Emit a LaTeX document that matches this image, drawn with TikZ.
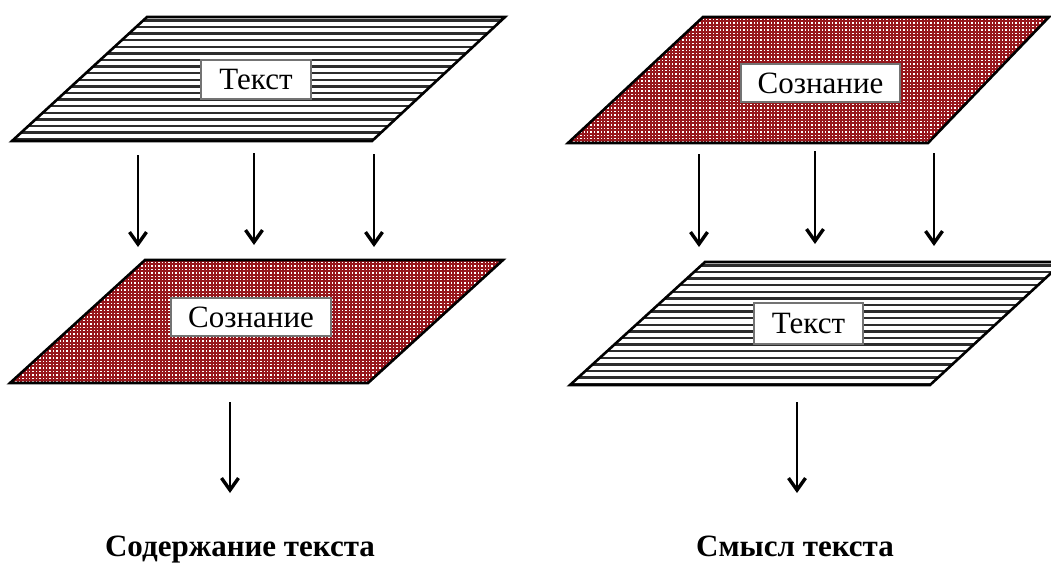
\documentclass[tikz,border=0pt]{standalone}
\usepackage{fontspec}
\setmainfont{Liberation Serif}
\newfontfamily\timesfont{Liberation Serif}
\usetikzlibrary{arrows.meta}

\definecolor{checkred}{RGB}{150,22,28}
\definecolor{stripegray}{RGB}{45,45,45}

\tikzset{
  plane/.style={draw=black, line width=2.6pt, line join=miter},
  stripe/.style={draw=stripegray, line width=2.4pt},
  checkline/.style={draw=checkred, line width=2.1pt},
  labelbox/.style={draw=black!55, line width=2pt, fill=white, inner sep=0pt,
    font=\timesfont\fontsize{31}{34}\selectfont},
  flow/.style={line width=2.2pt, -{Straight Barb[length=12pt,width=17pt,line width=3.4pt]}},
  caption/.style={font=\timesfont\bfseries\fontsize{31}{34}\selectfont, anchor=base},
}

% #1 bottom-left x, #2 bottom-right x, #3 top-right x, #4 top-left x, #5 top y, #6 bottom y
\newcommand\stripedplane[6]{%
  \begin{scope}
    \clip (#1,#6) -- (#2,#6) -- (#3,#5) -- (#4,#5) -- cycle;
    \fill[white] (#1,#6) -- (#2,#6) -- (#3,#5) -- (#4,#5) -- cycle;
    \pgfmathsetmacro\ystart{#5+3.4}
    \pgfmathsetmacro\ynext{#5+3.4+6.6}
    \foreach \yy in {\ystart,\ynext,...,#6} \draw[stripe] (#1,\yy) -- (#3,\yy);
  \end{scope}
  \draw[plane] (#1,#6) -- (#2,#6) -- (#3,#5) -- (#4,#5) -- cycle;
}

\newcommand\checkedplane[6]{%
  \begin{scope}
    \clip (#1,#6) -- (#2,#6) -- (#3,#5) -- (#4,#5) -- cycle;
    \fill[white] (#1,#6) -- (#2,#6) -- (#3,#5) -- (#4,#5) -- cycle;
    \pgfmathsetmacro\ystart{#5+1}
    \pgfmathsetmacro\ynext{#5+1+3.4}
    \foreach \yy in {\ystart,\ynext,...,#6} \draw[checkline] (#1,\yy) -- (#3,\yy);
    \pgfmathsetmacro\xstart{#1+1}
    \pgfmathsetmacro\xnext{#1+1+3.4}
    \foreach \xx in {\xstart,\xnext,...,#3} \draw[checkline] (\xx,#5) -- (\xx,#6);
  \end{scope}
  \draw[plane] (#1,#6) -- (#2,#6) -- (#3,#5) -- (#4,#5) -- cycle;
}

\begin{document}
\begin{tikzpicture}[x=1pt, y=-1pt]
  \useasboundingbox (0,0) rectangle (1051,565);

  % planes
  \stripedplane{12}{372}{505}{147}{17}{141}
  \checkedplane{568}{928}{1049}{703}{17}{143}
  \checkedplane{10}{368}{503}{145}{260}{383}
  \stripedplane{570}{930}{1063}{705}{262}{385}

  % labels on the planes
  \node[labelbox, minimum width=110pt, minimum height=39pt] (textA) at (256,79.5) {Текст};
  \node[labelbox, minimum width=159pt, minimum height=38pt] (mindA) at (820.5,83) {Сознание};
  \node[labelbox, minimum width=160pt, minimum height=38pt] (mindB) at (251,317) {Сознание};
  \node[labelbox, minimum width=109pt, minimum height=41pt] (textB) at (808.5,323.5) {Текст};

  % arrow ends
  \coordinate (la1) at (138,155); \coordinate (lb1) at (138,247);
  \coordinate (la2) at (254,153); \coordinate (lb2) at (254,245);
  \coordinate (la3) at (374,154); \coordinate (lb3) at (374,247);
  \coordinate (ra1) at (699,154); \coordinate (rb1) at (699,247);
  \coordinate (ra2) at (815,151); \coordinate (rb2) at (815,244);
  \coordinate (ra3) at (934,153); \coordinate (rb3) at (934,246);
  \coordinate (lo1) at (230,402); \coordinate (lo2) at (230,493);
  \coordinate (ro1) at (797,402); \coordinate (ro2) at (797,493);

  \draw[flow] (la1) -- (lb1);
  \draw[flow] (la2) -- (lb2);
  \draw[flow] (la3) -- (lb3);
  \draw[flow] (ra1) -- (rb1);
  \draw[flow] (ra2) -- (rb2);
  \draw[flow] (ra3) -- (rb3);
  \draw[flow] (lo1) -- (lo2);
  \draw[flow] (ro1) -- (ro2);

  % results
  \node[caption] (content) at (240,556) {Содержание текста};
  \node[caption] (meaning) at (795,556) {Смысл текста};
\end{tikzpicture}
\end{document}
